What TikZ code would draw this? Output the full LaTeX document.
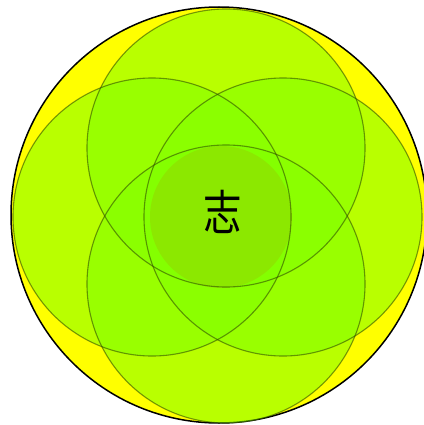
\documentclass[tikz,border=0pt]{standalone}
\usepackage{fontspec}
\newfontfamily\cjkfont{Noto Sans CJK SC}
\definecolor{setyellow}{RGB}{255,255,0}
\definecolor{setgreen}{RGB}{128,255,0}
\definecolor{setline}{RGB}{50,80,0}
\definecolor{coreolive}{RGB}{160,180,0}

\begin{document}
\begin{tikzpicture}[
    x=1pt, y=-1pt,
    universe/.style={circle, draw=black, line width=1.5pt, fill=setyellow, inner sep=0pt, minimum size=416pt},
    petal/.style={circle, fill=setgreen, fill opacity=0.55, inner sep=0pt, minimum size=278pt},
    rim/.style={draw=setline, draw opacity=0.6, line width=1.1pt},
    core/.style={circle, fill=coreolive, fill opacity=0.3, inner sep=0pt, minimum size=142pt},
    glyph/.style={font=\cjkfont\fontsize{48}{48}\selectfont, text=black, inner sep=0pt}
  ]
  \useasboundingbox (0,0) rectangle (423,425);
  \node[universe] (all) at (219,215) {};
  \node[petal] (top) at (226,148) {};
  \node[petal] (left) at (152,217) {};
  \node[petal] (right) at (283,217) {};
  \node[petal] (bottom) at (226,284) {};
  \node[core] (core) at (221,217) {};
  % outlines on top of all fills
  \foreach \s in {top,left,right,bottom}
    \draw[rim] (\s) circle[radius=139pt];
  \node[glyph] (zhi) at (223,212) {\scalebox{0.8}[1]{志}};
\end{tikzpicture}
\end{document}
